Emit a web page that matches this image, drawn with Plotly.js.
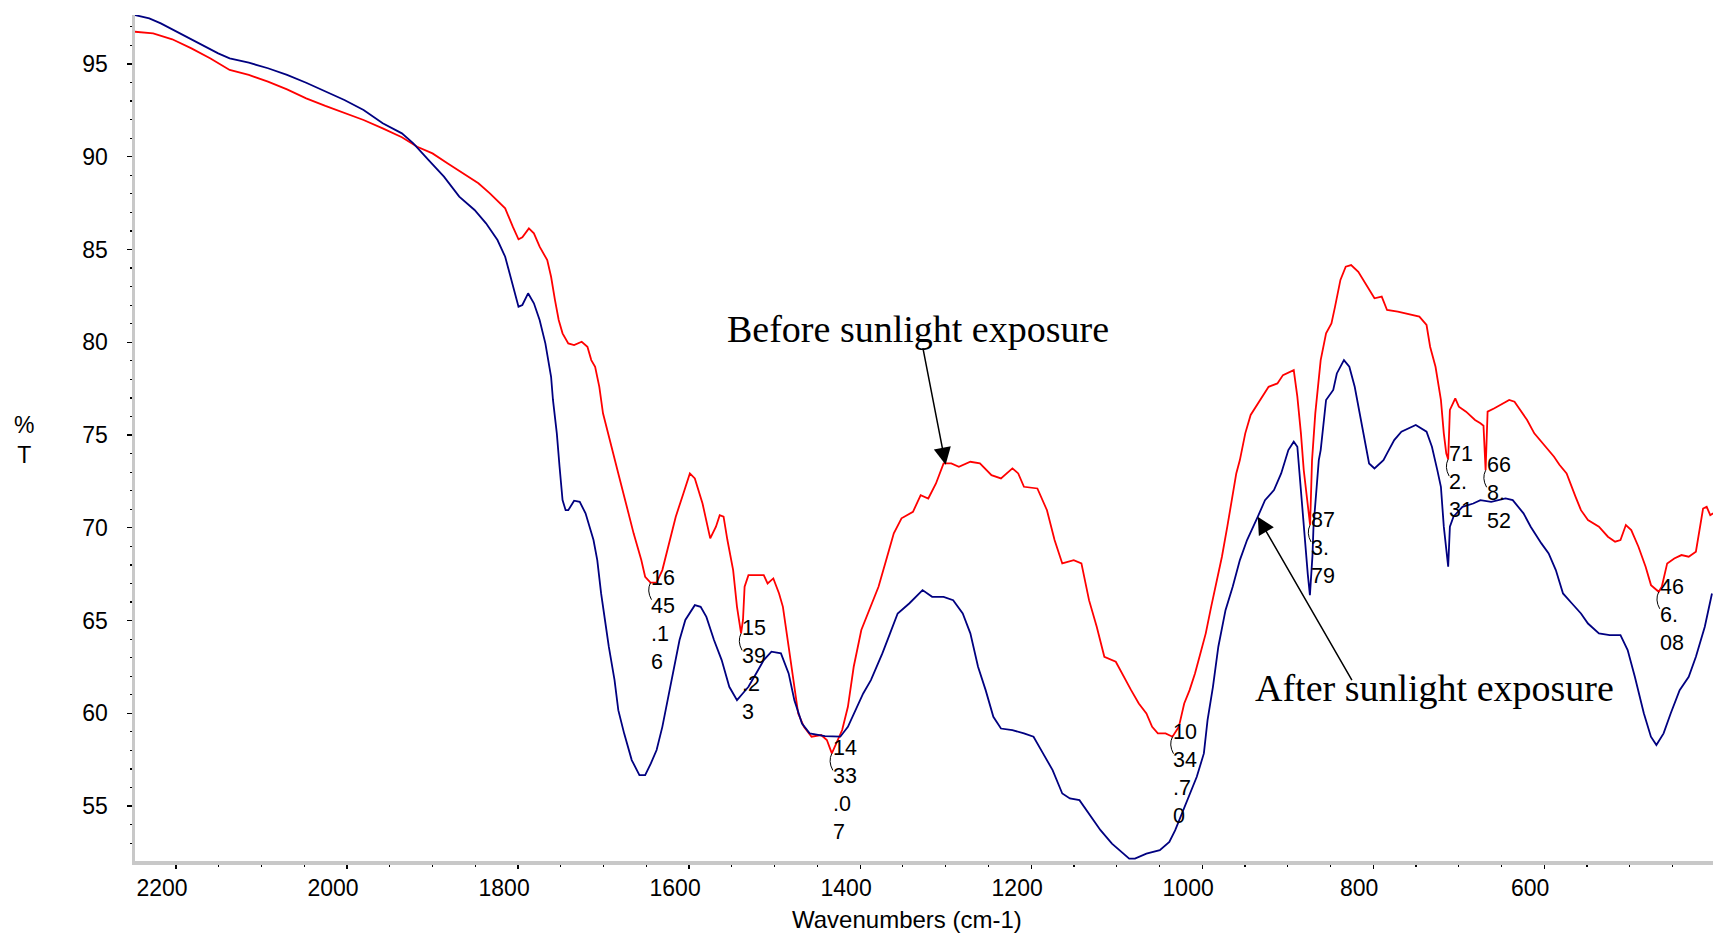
<!DOCTYPE html>
<html>
<head>
<meta charset="utf-8">
<script src="https://cdn.plot.ly/plotly-3.0.1.min.js"></script>
<style>
  html, body { margin: 0; padding: 0; background: #ffffff; }
  #chart { width: 1713px; height: 933px; }
</style>
</head>
<body>
<div id="chart"></div>
<script>
// FTIR transmittance spectra (wavenumber in cm-1, %T)
const beforeWn = [2248.3,2226.8,2204.4,2182,2159.7,2137.3,2114.9,2092.5,2070.2,2047.8,2025.4,2003.1,1980.7,1958.3,1935.9,1918,1900.1,1882.2,1864.3,1846.4,1833,1815.1,1806.2,1799.5,1795,1787.4,1781.5,1774.8,1765.9,1761.4,1756.9,1752.5,1748,1741.3,1734.5,1725.6,1718.9,1714.4,1709.9,1705,1700.7,1694,1687.2,1682.8,1673.8,1664.9,1655.9,1651.4,1645.16,1638,1631.3,1624.6,1615.6,1606.7,1599.1,1593.3,1584.3,1575.3,1568.6,1564.2,1559.7,1555.2,1548.5,1544,1539.23,1537,1535.1,1530.6,1521.6,1512.7,1508.2,1501.5,1494.8,1490.3,1483.6,1476.9,1472.4,1465.7,1456.8,1445.6,1438.9,1433.07,1427.7,1421,1414.3,1407.5,1398.6,1387.4,1378.5,1369.5,1360.6,1351.6,1338.2,1329.2,1320.3,1311.3,1302.4,1293.4,1284.5,1271.1,1259.9,1246.4,1235.3,1221.9,1215.1,1208.4,1192.7,1181.5,1172.6,1163.6,1150.2,1141.2,1132.3,1123.3,1114.4,1101,1092,1083.1,1074.1,1065.2,1058.5,1051.8,1042.8,1034.7,1027.3,1021,1014.7,1008.4,1002.1,995.8,989.5,983.2,976.9,970.6,964.3,960.1,955.9,949.6,943.3,934.9,922.3,912,905.5,892.9,888.7,884.5,881.2,873.79,871.5,867.7,861.4,855.1,848.8,844.6,838.3,832.1,825.8,817.4,809,798.5,790,783.8,771.2,754.4,746,737.6,733.4,727.1,720.8,717.4,714.5,712.31,710.3,704,699.8,691.4,680.9,674.6,671,668.52,666.2,658.2,651.5,640.9,634.7,628.4,620,611.6,599,588.5,582.2,573.8,563.3,557,548.8,536,525.5,517.1,510.8,504.5,498.2,489.8,481.4,475.1,466.08,462.5,456.2,447.9,439.5,431,422.6,418.4,414.2,410,405.8,402.5];
const beforeT = [96.74,96.65,96.33,95.84,95.3,94.68,94.41,94.05,93.63,93.15,92.74,92.34,91.98,91.53,91.05,90.54,90.18,89.64,89.1,88.57,88.03,87.22,86.23,85.55,85.66,86.14,85.87,85.15,84.43,83.53,82.28,81.2,80.48,79.94,79.85,80.03,79.76,79.04,78.68,77.6,76.17,74.91,73.65,72.93,71.31,69.7,68.26,67.36,67.04,67.04,67.72,68.98,70.6,71.85,72.93,72.66,71.31,69.43,70.06,70.68,70.6,69.34,67.72,65.74,64.31,65.03,66.82,67.45,67.45,67.45,67.0,67.27,66.46,65.74,63.59,61.43,59.99,59.27,58.74,58.83,58.56,57.84,58.38,59.1,60.35,62.51,64.49,65.74,66.82,68.26,69.7,70.51,70.86,71.76,71.58,72.39,73.47,73.47,73.29,73.56,73.47,72.84,72.66,73.2,72.93,72.21,72.12,70.95,69.34,68.08,68.26,68.08,66.1,64.67,63.05,62.78,61.97,61.25,60.53,59.99,59.27,58.92,58.92,58.74,59.27,60.53,61.25,62.15,63.23,64.31,65.74,67.0,68.44,70.06,71.67,72.93,73.65,75.09,76.08,76.71,77.6,77.78,78.23,78.5,77.07,75.09,73.11,70.15,73.65,76.17,79.04,80.48,81.02,81.92,83.36,84.07,84.16,83.8,83.18,82.37,82.46,81.74,81.65,81.47,81.38,80.93,79.76,78.68,76.89,75.09,74.0,73.7,76.35,76.98,76.53,76.26,75.81,75.63,75.5,73.1,76.26,76.44,76.62,76.89,76.8,76.35,75.81,75.09,74.37,73.83,73.4,72.93,71.67,70.95,70.42,70.06,69.52,69.25,69.34,70.15,69.88,68.98,67.9,66.91,66.55,66.82,68.08,68.35,68.53,68.44,68.71,69.88,71.04,71.13,70.68,70.78];

const afterWn = [2248.3,2231.3,2217.8,2195.5,2173.1,2150.7,2137.3,2114.9,2092.5,2070.2,2047.8,2025.4,2003.1,1980.7,1958.3,1935.9,1922.5,1904.6,1886.7,1868.8,1850.9,1837.5,1824.1,1815.1,1806.2,1799.5,1795,1788.3,1781.5,1774.8,1768.1,1761.4,1759.2,1754.7,1751.5,1748,1744.4,1741.3,1734.5,1727.9,1721.1,1716.7,1711.8,1707.4,1702.9,1698.4,1693.9,1687.2,1682.8,1676,1667.1,1658.1,1651.4,1644.7,1638,1631.3,1624.6,1617.9,1611.2,1604.4,1593.3,1586.5,1579.8,1570.9,1561.9,1553,1544,1537.3,1530.6,1521.6,1512.7,1503.7,1492.6,1483.6,1476.9,1468,1459,1441.1,1423.2,1414.3,1405.3,1396.4,1387.4,1380.7,1374,1365,1356.1,1342.6,1327,1315.8,1302.4,1291.2,1280,1271.1,1262.1,1253.2,1244.2,1235.3,1221.9,1208.4,1197.2,1186.1,1174.9,1163.6,1154.7,1143.5,1132.3,1118.9,1105.5,1096.5,1085.3,1078.6,1065.2,1049.5,1038.4,1031.5,1018.9,1006.3,998,993.7,987.4,981.1,972.7,964.3,955.9,947.5,934.9,926.5,916,907.6,899.2,892.9,888.7,886.6,882,876.5,874,871,869.8,863.6,861.4,855.1,846.7,842.5,834.2,827.9,821.6,817.4,811.1,804.8,798.5,788,783.8,775.4,767,750.2,737.6,731.3,725,720.8,717.4,712.3,710.3,706.1,695.6,683,674.6,662,645.2,636.8,624.2,615.8,603.3,594.8,586.4,578,567.5,557,548.8,536,523.4,510.8,502.4,494,483.5,475.2,468.8,460.4,452,441.6,431,422.6,412.2,403.8];
const afterT = [97.64,97.46,97.19,96.65,96.11,95.57,95.3,95.07,94.77,94.41,93.99,93.51,93.06,92.52,91.8,91.26,90.72,89.82,88.93,87.85,87.13,86.41,85.51,84.61,83.0,81.92,82.01,82.64,82.1,81.2,79.94,78.14,76.89,75.09,73.29,71.5,70.95,70.95,71.46,71.4,70.78,70.06,69.34,68.26,66.46,65.03,63.59,61.79,60.17,58.92,57.48,56.67,56.67,57.3,58.02,59.27,60.89,62.51,63.95,65.03,65.83,65.74,65.2,63.95,62.87,61.43,60.71,61.07,61.43,62.15,62.87,63.32,63.23,62.15,60.71,59.45,58.92,58.77,58.74,59.27,60.17,61.07,61.79,62.51,63.23,64.31,65.38,65.92,66.64,66.28,66.28,66.1,65.38,64.31,62.51,61.25,59.81,59.18,59.09,58.92,58.74,57.84,56.94,55.68,55.41,55.32,54.6,53.7,52.98,52.62,52.17,52.17,52.44,52.62,53.07,53.7,55.14,56.58,57.84,59.63,61.43,63.59,65.56,66.82,68.26,69.34,70.6,71.49,72.03,72.93,74.19,74.64,74.37,73.11,70.5,67.5,66.37,68.5,70.06,73.65,74.19,76.89,77.43,78.32,79.04,78.68,77.6,76.53,75.09,73.47,73.2,73.65,74.01,74.73,75.18,75.54,75.18,74.37,73.11,72.21,70.06,67.9,70.06,70.6,71.13,71.31,71.49,71.4,71.58,71.49,70.78,70.06,69.16,68.62,67.72,66.46,65.92,65.38,64.84,64.31,64.22,64.22,63.41,61.97,60.0,58.74,58.29,58.92,60.0,61.25,61.97,63.05,64.67,66.46];

// Labelled absorption peaks of the "before" spectrum
const peakWn = [1645.16, 1539.23, 1433.07, 1034.70, 873.79, 712.31, 668.52, 466.08];
const peakT  = [67.04, 64.31, 57.84, 58.74, 70.15, 73.7, 73.1, 66.55];

const xTickVals = [2200, 2000, 1800, 1600, 1400, 1200, 1000, 800, 600];
const yTickVals = [55, 60, 65, 70, 75, 80, 85, 90, 95];

const xTitle = 'Wavenumbers (cm-1)';
const yTitle = '%<br>T';
const beforeLabel = 'Before sunlight exposure';
const afterLabel = 'After sunlight exposure';

const sans = 'Liberation Sans, Arial, sans-serif';
const serif = 'Liberation Serif, Times New Roman, serif';

const traces = [
  { x: beforeWn, y: beforeT, type: 'scatter', mode: 'lines', name: beforeLabel,
    line: { color: '#ff0000', width: 1.8 } },
  { x: afterWn, y: afterT, type: 'scatter', mode: 'lines', name: afterLabel,
    line: { color: '#000080', width: 1.8 } }
];

// Peak labels: wavenumber split into two-character lines
const peakText = v => v.toFixed(2).match(/.{1,2}/g).join('<br>');

const annotations = peakWn.map((w, i) => ({
  x: w, y: peakT[i], xref: 'x', yref: 'y',
  text: peakText(w), showarrow: false,
  xanchor: 'left', yanchor: 'top', align: 'left',
  xshift: -1, yshift: 19,
  font: { family: sans, size: 21.5, color: '#000000' }
}));

// Curve labels with pointer arrows
annotations.push(
  { x: 0.4962, y: 0.6283, xref: 'paper', yref: 'paper', text: beforeLabel, showarrow: false,
    xanchor: 'center', yanchor: 'middle', font: { family: serif, size: 38, color: '#000000' } },
  { x: 1300, y: 73.4, xref: 'x', yref: 'y', text: '', showarrow: true,
    axref: 'pixel', ayref: 'pixel', ax: -23, ay: -118,
    arrowhead: 2, arrowsize: 2.3, arrowwidth: 1.5, arrowcolor: '#000000', standoff: 0 },
  { x: 0.8232, y: 0.2040, xref: 'paper', yref: 'paper', text: afterLabel, showarrow: false,
    xanchor: 'center', yanchor: 'middle', font: { family: serif, size: 38, color: '#000000' } },
  { x: 935, y: 70.6, xref: 'x', yref: 'y', text: '', showarrow: true,
    axref: 'pixel', ayref: 'pixel', ax: 95, ay: 165,
    arrowhead: 2, arrowsize: 2.3, arrowwidth: 1.5, arrowcolor: '#000000', standoff: 0 },
  { x: 0.4892, y: -0.0686, xref: 'paper', yref: 'paper', text: xTitle, showarrow: false,
    xanchor: 'center', yanchor: 'middle', font: { family: sans, size: 24, color: '#000000' } },
  { x: -0.0703, y: 0.4976, xref: 'paper', yref: 'paper', text: yTitle, showarrow: false,
    xanchor: 'center', yanchor: 'middle', font: { family: sans, size: 23, color: '#000000' } }
);

// Small bracket joining each labelled peak to its label
const shapes = peakWn.map((w, i) => ({
  type: 'path', xref: 'x', yref: 'y',
  xsizemode: 'pixel', ysizemode: 'pixel', xanchor: w, yanchor: peakT[i],
  path: 'M0,0 Q-4,-8 1,-17',
  line: { color: '#000000', width: 1 }
}));

const layout = {
  width: 1713, height: 933,
  margin: { l: 135, r: 0, t: 15, b: 72 },
  paper_bgcolor: '#ffffff', plot_bgcolor: '#ffffff',
  showlegend: false,
  xaxis: {
    range: [2248, 402.6], tickvals: xTickVals, ticktext: xTickVals.map(String),
    ticks: 'outside', ticklen: 4, tickwidth: 1.2, tickcolor: '#000000',
    minor: { dtick: 50, tick0: 0, ticks: 'outside', ticklen: 2, tickwidth: 1.2, tickcolor: '#000000' },
    showline: true, linecolor: '#c8c8c8', linewidth: 3.5,
    showgrid: false, zeroline: false,
    ticklabelshift: 14,
    tickfont: { family: sans, size: 23, color: '#000000' }
  },
  yaxis: {
    range: [52.04, 97.64], tickvals: yTickVals, ticktext: yTickVals.map(String),
    ticks: 'outside', ticklen: 5, tickwidth: 1.2, tickcolor: '#000000',
    minor: { dtick: 1, tick0: 0, ticks: 'outside', ticklen: 2, tickwidth: 1.2, tickcolor: '#000000' },
    showline: true, linecolor: '#c8c8c8', linewidth: 3.5,
    showgrid: false, zeroline: false,
    ticklabelstandoff: 14,
    tickfont: { family: sans, size: 23, color: '#000000' }
  },
  annotations: annotations,
  shapes: shapes
};

Plotly.newPlot('chart', traces, layout, { displayModeBar: false, staticPlot: true });
</script>
</body>
</html>
